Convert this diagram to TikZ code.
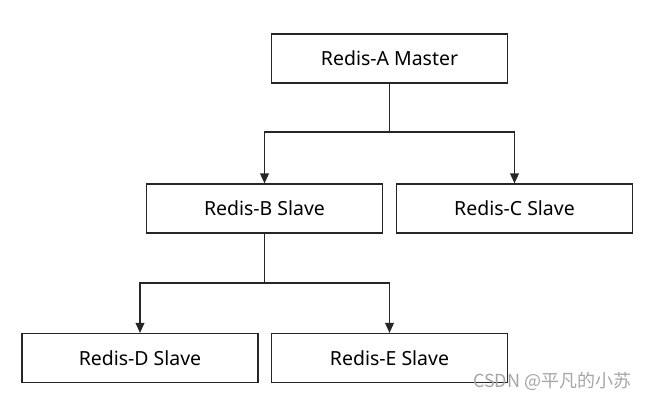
\documentclass[tikz,border=0pt]{standalone}
\usepackage{fontspec}
\setmainfont{Noto Sans}
\newfontfamily\cjkfont{Noto Sans CJK SC}
\usetikzlibrary{math,arrows.meta}

\tikzset{
  redisbox/.style={draw=black!85, line width=1.1pt, fill=white,
    minimum width=177pt, minimum height=36.5pt, inner sep=0pt,
    font=\fontsize{14.6}{17}\selectfont},
  arr/.style={draw=black!85, line width=1.1pt, -{Triangle[length=7.5pt,width=6.5pt]}}
}

\begin{document}
\begin{tikzpicture}[x=0.75pt,y=-0.75pt]
  \useasboundingbox (0,0) rectangle (648,401);
  \tikzmath{
    % box centres (pixels), rows and junction heights
    \ax = 389.5; \ay = 58.5;
    \bx = 264.5; \cx = 514.5; \by = 208.5;
    \dx = 140; \ex = 389.5; \dy = 358;
    \ja = 132; \jb = 283;
  }
  \node[redisbox] (A) at (\ax,\ay) {Redis-A Master};
  \node[redisbox] (B) at (\bx,\by) {Redis-B Slave};
  \node[redisbox] (C) at (\cx,\by) {Redis-C Slave};
  \node[redisbox] (D) at (\dx,\dy) {Redis-D Slave};
  \node[redisbox] (E) at (\ex,\dy) {Redis-E Slave};
  % master -> first level
  \coordinate (ja) at (\ax,\ja);
  \draw[draw=black!85, line width=1.1pt] (A.south) -- (ja);
  \draw[arr] (ja) -| (B.north);
  \draw[arr] (ja) -| (C.north);
  % B -> second level
  \coordinate (jb) at (\bx,\jb);
  \draw[draw=black!85, line width=1.1pt] (B.south) -- (jb);
  \draw[arr] (jb) -| (D.north);
  \draw[arr] (jb) -| (E.north);
  % watermark
  \node[anchor=east, text=black!35, font=\fontsize{13.5}{15}\cjkfont, inner sep=1pt] (wm) at (633,381) {CSDN @平凡的小苏};
\end{tikzpicture}
\end{document}
